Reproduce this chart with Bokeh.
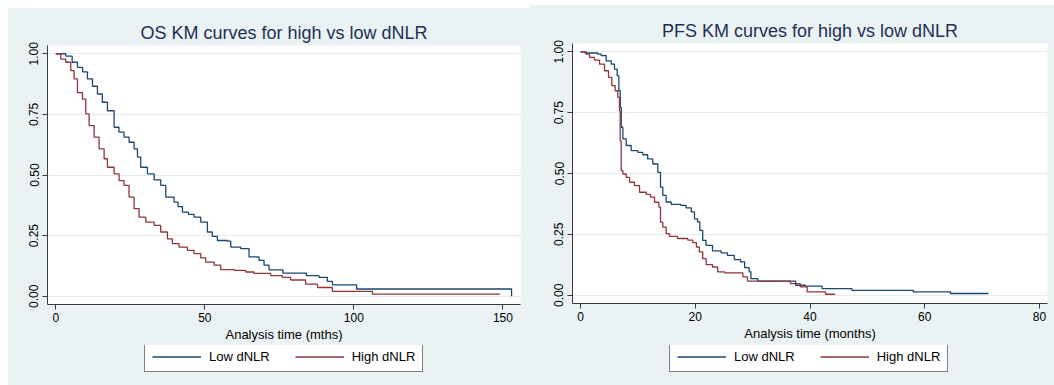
from bokeh.plotting import figure
from bokeh.layouts import row, column
from bokeh.models import Range1d, FixedTicker, NumeralTickFormatter, Legend, LegendItem
from bokeh.embed import file_html
from bokeh.resources import INLINE

# ---------------- data ----------------
os_low_t = [0, 3.35, 5.5, 7.27, 9.0, 10.62, 12.3, 13.97, 15.6, 17.33, 19.56, 21.2, 22.91, 24.6,
            26.27, 27.4, 28.5, 30.74, 33.0, 35.21, 36.89, 39.68, 41.0, 42.48, 44.5, 46.39, 48.63,
            50.86, 52.5, 54.21, 57.57, 58.69, 62.04, 64.83, 68.19, 69.86, 71.54, 76.2, 84.1, 88.3,
            91.1, 92.8, 100.9, 152.9]
os_low_s = [1, 0.99, 0.965, 0.944, 0.925, 0.896, 0.866, 0.834, 0.80, 0.765, 0.697, 0.677, 0.656,
            0.635, 0.608, 0.574, 0.532, 0.505, 0.48, 0.457, 0.409, 0.388, 0.37, 0.347, 0.338, 0.326,
            0.306, 0.265, 0.247, 0.230, 0.227, 0.203, 0.196, 0.162, 0.148, 0.128, 0.109, 0.095,
            0.085, 0.078, 0.061, 0.047, 0.030, 0.0]

os_high_t = [0, 1.68, 3.35, 5.03, 6.15, 7.27, 8.94, 10.06, 11.18, 12.85, 14.53, 16.21, 17.33, 19.56,
             21.24, 22.91, 24.59, 26.27, 27.94, 30.18, 32.97, 35.21, 37.45, 39.12, 41.36, 44.15,
             46.39, 48.63, 50.3, 53.1, 55.33, 59.8, 63.7, 66.5, 72.1, 76.0, 78.8, 83.8, 87.8, 92.8,
             106.2, 149.0]
os_high_s = [1, 0.978, 0.965, 0.93, 0.896, 0.84, 0.813, 0.752, 0.704, 0.656, 0.608, 0.567, 0.532,
             0.505, 0.477, 0.457, 0.409, 0.361, 0.326, 0.306, 0.292, 0.265, 0.237, 0.217, 0.203,
             0.189, 0.176, 0.158, 0.141, 0.128, 0.110, 0.107, 0.100, 0.094, 0.085, 0.078, 0.067,
             0.050, 0.036, 0.020, 0.009, 0.009]

pfs_low_t = [0, 0.78, 3.0, 3.6, 4.47, 5.35, 5.92, 6.39, 6.68, 6.92, 7.1, 7.38, 7.96, 8.83, 9.99,
             10.86, 11.7, 12.6, 13.47, 13.94, 14.34, 14.92, 15.8, 17.5, 18.4, 19.3, 19.86, 20.4,
             20.8, 21.3, 21.87, 23.0, 24.5, 25.6, 26.8, 27.9, 28.6, 29.4, 29.7, 30.9, 37.5, 39.2,
             42.1, 47.3, 58.0, 64.5, 71.1]
pfs_low_s = [1, 0.995, 0.99, 0.984, 0.963, 0.949, 0.929, 0.902, 0.840, 0.772, 0.690, 0.642, 0.615,
             0.594, 0.587, 0.577, 0.560, 0.539, 0.505, 0.444, 0.410, 0.383, 0.373, 0.369, 0.359,
             0.342, 0.314, 0.301, 0.266, 0.225, 0.205, 0.182, 0.174, 0.164, 0.146, 0.137, 0.113,
             0.096, 0.068, 0.058, 0.041, 0.037, 0.027, 0.020, 0.014, 0.007, 0.007]

pfs_high_t = [0, 0.99, 1.57, 2.44, 3.31, 4.18, 4.88, 5.46, 6.04, 6.5, 6.79, 6.91, 7.08, 7.38, 7.96,
              8.54, 9.41, 10.28, 11.44, 12.2, 12.9, 13.65, 13.94, 14.34, 14.92, 15.5, 16.9, 18.7,
              19.57, 20.2, 20.7, 21.3, 21.9, 23.0, 23.9, 25.1, 28.3, 29.1, 36.6, 38.3, 39.5, 42.7,
              44.4]
pfs_high_s = [1, 0.990, 0.977, 0.966, 0.949, 0.922, 0.895, 0.861, 0.840, 0.813, 0.758, 0.635, 0.512,
              0.498, 0.484, 0.464, 0.450, 0.423, 0.414, 0.403, 0.382, 0.362, 0.300, 0.280, 0.253,
              0.242, 0.233, 0.226, 0.216, 0.198, 0.178, 0.150, 0.126, 0.116, 0.096, 0.092, 0.075,
              0.058, 0.048, 0.034, 0.014, 0.004, 0.004]

series_labels = ["Low dNLR", "High dNLR"]
y_ticks = [0, 0.25, 0.5, 0.75, 1.0]
os_x_ticks = [0, 50, 100, 150]
pfs_x_ticks = [0, 20, 40, 60, 80]

# ---------------- styling ----------------
BG = "#eaf2f3"
GRID = "#e4ecee"
BLUE = "#1a476f"
RED = "#90353b"
FONT = "Liberation Sans"
TITLE_COLOR = "#1e2f57"


def make_panel(title, xlabel, xticks, xr, low, high, width, height, borders, leg_height, leg_loc):
    p = figure(width=width, height=height, output_backend="svg", toolbar_location=None,
               x_range=Range1d(*xr), y_range=Range1d(-0.034, 1.034),
               min_border_left=borders[0], min_border_right=borders[1],
               min_border_top=borders[2], min_border_bottom=borders[3])
    p.background_fill_color = "white"
    p.border_fill_color = BG
    p.outline_line_color = None

    p.title.text = title
    p.title.align = "center"
    p.title.text_font = FONT
    p.title.text_font_size = "18px"
    p.title.text_font_style = "normal"
    p.title.text_color = TITLE_COLOR
    p.title.standoff = 5

    p.xgrid.visible = False
    p.ygrid.ticker = FixedTicker(ticks=y_ticks)
    p.ygrid.grid_line_color = GRID
    p.ygrid.grid_line_width = 1.2

    for ax in (p.xaxis[0], p.yaxis[0]):
        ax.axis_line_color = "#3a3a3a"
        ax.major_tick_line_color = "#3a3a3a"
        ax.major_tick_out = 5
        ax.major_tick_in = 0
        ax.minor_tick_line_color = None
        ax.major_label_text_font = FONT
        ax.major_label_text_font_size = "12px"
        ax.major_label_text_color = "black"
        ax.axis_label_text_font = FONT
        ax.axis_label_text_font_size = "13px"
        ax.axis_label_text_font_style = "normal"
        ax.axis_label_text_color = "black"

    p.xaxis.ticker = FixedTicker(ticks=xticks)
    p.xaxis.axis_label = xlabel
    p.xaxis.major_label_standoff = 3
    p.xaxis.axis_label_standoff = 2
    p.yaxis.ticker = FixedTicker(ticks=y_ticks)
    p.yaxis.formatter = NumeralTickFormatter(format="0.00")
    p.yaxis.major_label_orientation = "vertical"
    p.yaxis.major_label_standoff = 4

    p.step(low[0], low[1], mode="after", line_color=BLUE, line_width=1.3)
    p.step(high[0], high[1], mode="after", line_color=RED, line_width=1.3)

    # legend strip below the plot: same series drawn out of view, legend keys shown
    lg = figure(width=width, height=leg_height, output_backend="svg", toolbar_location=None,
                min_border=0, x_axis_type=None, y_axis_type=None,
                x_range=Range1d(-20, -10), y_range=Range1d(0, 1))
    lg.background_fill_color = BG
    lg.border_fill_color = BG
    lg.outline_line_color = None
    lg.xgrid.visible = False
    lg.ygrid.visible = False
    g1 = lg.step(low[0], low[1], mode="after", line_color=BLUE, line_width=1.3)
    g2 = lg.step(high[0], high[1], mode="after", line_color=RED, line_width=1.3)
    legend = Legend(items=[LegendItem(label=series_labels[0], renderers=[g1]),
                           LegendItem(label=series_labels[1], renderers=[g2])],
                    orientation="horizontal", location=leg_loc)
    legend.label_text_font = FONT
    legend.label_text_font_size = "13px"
    legend.label_text_color = "black"
    legend.glyph_width = 49
    legend.glyph_height = 13
    legend.label_height = 13
    legend.label_standoff = 8
    legend.spacing = 25
    legend.padding = 7
    legend.margin = 0
    legend.border_line_color = "black"
    legend.border_line_width = 1
    legend.background_fill_color = "white"
    legend.background_fill_alpha = 1.0
    lg.add_layout(legend)
    return column(p, lg, spacing=0, styles={"background-color": BG})


c1 = make_panel("OS KM curves for high vs low dNLR", "Analysis time (mths)", os_x_ticks,
                (-2.78, 155.9), (os_low_t, os_low_s), (os_high_t, os_high_s),
                522, 337, (39, 10, 37, 41), 40, (97, 13))
c2 = make_panel("PFS KM curves for high vs low dNLR", "Analysis time (months)", pfs_x_ticks,
                (-1.4, 81.4), (pfs_low_t, pfs_low_s), (pfs_high_t, pfs_high_s),
                524, 340, (42, 7, 38, 42), 40, (97, 13))
c1.margin = (8, 0, 0, 8)
c2.margin = (5, 0, 0, 0)

layout = row(c1, c2, spacing=0)

open("out.html", "w").write(file_html(layout, INLINE))
